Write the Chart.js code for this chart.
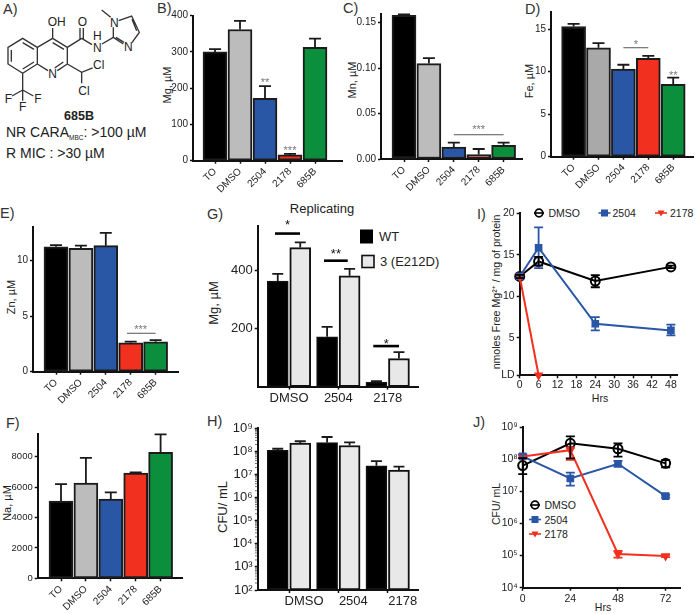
<!DOCTYPE html>
<html>
<head>
<meta charset="utf-8">
<script src="https://cdn.jsdelivr.net/npm/chart.js@4"></script>
<style>
  html, body { margin: 0; padding: 0; background: #fff; }
  #page { position: relative; width: 696px; height: 614px; overflow: hidden; }
  #page canvas { position: absolute; }
  #notes { position: absolute; left: 0; top: 0; font-family: "Liberation Sans", Arial, sans-serif; fill: #222; }
</style>
</head>
<body>
<div id="page">
<svg id="notes" width="696" height="614" viewBox="0 0 696 614"></svg>
</div>
<script>
const FONT = '"Liberation Sans", Arial, sans-serif';
const INK = '#1a1a1a';
const BLACK = '#000000', GREY = '#bcbcbc', DARKGREY = '#a9a9a9', BLUE = '#2a56a6', RED = '#f2301f', GREEN = '#0b8f3d', PALE = '#e8e8e8';

// data
const compounds = ['TO', 'DMSO', '2504', '2178', '685B'];
const groups = ['DMSO', '2504', '2178'];

const mgValues = [300, 362, 172, 16, 313];
const mgUpper = [308, 386, 206, 19, 337];
const mgTicks = [0, 100, 200, 300, 400];

const mnValues = [0.158, 0.105, 0.013, 0.005, 0.015];
const mnUpper = [0.159, 0.111, 0.018, 0.011, 0.018];
const mnTicks = [0, 0.05, 0.1, 0.15];

const feValues = [15.3, 12.8, 10.3, 11.55, 8.5];
const feUpper = [15.6, 13.35, 10.8, 11.85, 9.3];
const feTicks = [0, 5, 10, 15];

const znValues = [11.25, 11.1, 11.35, 2.6, 2.7];
const znUpper = [11.4, 11.35, 12.5, 2.7, 2.85];
const znTicks = [0, 5, 10];

const naValues = [5085, 6270, 5220, 6930, 8290];
const naUpper = [6200, 7930, 5660, 6970, 9470];
const naTicks = [0, 2000, 4000, 6000, 8000];

const repMgWT = [362, 171, 15];
const repMgWTUpper = [387, 205, 19];
const repMgMut = [477, 380, 96];
const repMgMutUpper = [495, 404, 118];
const repMgTicks = [200, 400];

const cfuWT = [1.12e8, 2.4e8, 2.4e7];
const cfuWTUpper = [1.3e8, 4.2e8, 3.8e7];
const cfuMut = [2.3e8, 1.8e8, 1.55e7];
const cfuMutUpper = [2.75e8, 2.45e8, 2.2e7];
const cfuTicks = [1e2, 1e3, 1e4, 1e5, 1e6, 1e7, 1e8, 1e9];

const freeHours = [0, 6, 24, 48];
const freeDmso = [12.4, 14.2, 11.85, 13.55];
const freeDmsoHigh = [12.6, 14.75, 12.55, 13.7];
const freeDmsoLow = [12.2, 13.7, 11.1, 13.4];
const free2504 = [12.4, 15.85, 6.7, 5.9];
const free2504High = [12.6, 18.3, 7.5, 6.6];
const free2504Low = [12.2, 13.4, 5.9, 5.3];
const free2178Hours = [0, 6];
const free2178 = [12.4, 0.5];
const freeTicks = [0.5, 5, 10, 15, 20];
const freeTickLabels = ['LD', '5', '10', '15', '20'];

const killHours = [0, 24, 48, 72];
const killDmso = [6.3e7, 3.1e8, 2.1e8, 7.4e7];
const killDmsoHigh = [1.07e8, 5.1e8, 3.1e8, 9.3e7];
const killDmsoLow = [3.4e7, 1.05e8, 1.2e8, 5.6e7];
const kill2504 = [1.22e8, 2.5e7, 7.2e7, 7.1e6];
const kill2504High = [1.4e8, 3.8e7, 8.8e7, 7.8e6];
const kill2504Low = [1.05e8, 1.5e7, 5.9e7, 6.4e6];
const kill2178 = [1.2e8, 1.9e8, 1.12e5, 9.7e4];
const kill2178High = [1.3e8, 2.3e8, 1.4e5, 1.05e5];
const kill2178Low = [1.1e8, 9.5e7, 8.6e4, 9e4];
const killTicks = [1e4, 1e5, 1e6, 1e7, 1e8, 1e9];

const SUPS = { 2: '²', 3: '³', 4: '⁴', 5: '⁵', 6: '⁶', 7: '⁷', 8: '⁸', 9: '⁹' };
const powerLabel = v => '10' + SUPS[Math.round(Math.log10(v))];

// upper / lower whiskers, taken from the dataset through the y scale
const whiskers = {
  id: 'whiskers',
  afterDatasetsDraw(chart) {
    const ctx = chart.ctx, y = chart.scales.y;
    chart.data.datasets.forEach((ds, d) => {
      if (!ds.upper) return;
      const cap = ds.cap || 6;
      chart.getDatasetMeta(d).data.forEach((el, i) => {
        const x = el.x, hi = y.getPixelForValue(ds.upper[i]);
        const lo = ds.lower ? y.getPixelForValue(ds.lower[i]) : el.y;
        ctx.save();
        ctx.strokeStyle = ds.whiskerColor || INK;
        ctx.lineWidth = 1.8;
        ctx.beginPath();
        ctx.moveTo(x, lo); ctx.lineTo(x, hi);
        ctx.moveTo(x - cap, hi); ctx.lineTo(x + cap, hi);
        if (ds.lower) { ctx.moveTo(x - cap, lo); ctx.lineTo(x + cap, lo); }
        ctx.stroke();
        ctx.restore();
      });
    });
  }
};

// significance bars and stars, in data units
const signif = {
  id: 'signif',
  afterDatasetsDraw(chart, args, opts) {
    const ctx = chart.ctx, sx = chart.scales.x, sy = chart.scales.y;
    (opts.marks || []).forEach(m => {
      ctx.save();
      if (m.from !== undefined) {
        ctx.strokeStyle = opts.lineColor || '#555';
        ctx.lineWidth = opts.lineWidth || 1;
        ctx.beginPath();
        ctx.moveTo(sx.getPixelForValue(m.from), sy.getPixelForValue(m.line));
        ctx.lineTo(sx.getPixelForValue(m.to), sy.getPixelForValue(m.line));
        ctx.stroke();
      }
      ctx.fillStyle = opts.textColor || '#777';
      ctx.font = (opts.size || 11) + 'px ' + FONT;
      ctx.textAlign = 'center';
      ctx.textBaseline = 'middle';
      ctx.fillText(m.text, sx.getPixelForValue(m.at), sy.getPixelForValue(m.star) + 2.5);
      ctx.restore();
    });
  }
};

// short minor ticks on a log axis, the library only does one tick length
const logMinor = {
  id: 'logMinor',
  afterDraw(chart, args, opts) {
    if (!opts.decades) return;
    const ctx = chart.ctx, y = chart.scales.y;
    ctx.save();
    ctx.strokeStyle = '#111';
    ctx.lineWidth = 0.8;
    ctx.beginPath();
    opts.decades.slice(0, -1).forEach(d => {
      for (let k = 2; k < 10; k++) {
        const py = y.getPixelForValue(d * k);
        ctx.moveTo(y.right - 1, py);
        ctx.lineTo(y.right - 2.5, py);
      }
    });
    ctx.stroke();
    ctx.restore();
  }
};

function addChart(area, config, tickSize) {
  const [l, t, r, b] = area;
  const left = Math.floor(l) - 45, top = Math.floor(t) - 9;
  const right = Math.ceil(r) + 3, bottom = Math.ceil(b) + 42;
  const canvas = document.createElement('canvas');
  canvas.width = right - left;
  canvas.height = bottom - top;
  canvas.style.left = left + 'px';
  canvas.style.top = top + 'px';
  canvas.style.width = canvas.width + 'px';
  canvas.style.height = canvas.height + 'px';
  document.getElementById('page').appendChild(canvas);

  const common = {
    offset: false,
    border: { display: true, color: '#111', width: 2 },
    grid: { display: true, offset: false, drawOnChartArea: false, drawTicks: true, tickLength: 3, tickWidth: 1.5, tickColor: '#111' }
  };
  const fix = s => { s.paddingLeft = s.paddingRight = s.paddingTop = s.paddingBottom = 0; };
  const sc = config.options.scales;
  sc.x = Object.assign({}, common, sc.x, { afterFit(s) { fix(s); s.height = bottom - b; } });
  sc.y = Object.assign({}, common, sc.y, { afterFit(s) { fix(s); s.width = l - left; } });
  sc.x.ticks = Object.assign({ color: '#222', font: { family: FONT, size: tickSize }, padding: 2, autoSkip: false }, sc.x.ticks);
  sc.y.ticks = Object.assign({ color: '#222', font: { family: FONT, size: tickSize }, padding: 2, autoSkip: false, includeBounds: false }, sc.y.ticks);

  config.options.responsive = false;
  config.options.animation = false;
  config.options.layout = { padding: { top: t - top, right: right - r, left: 0, bottom: 0 } };
  config.options.plugins = Object.assign({ legend: { display: false }, tooltip: { enabled: false } }, config.options.plugins);
  config.plugins = [whiskers, signif, logMinor];
  return new Chart(canvas.getContext('2d'), config);
}

const fixedTicks = list => s => { s.ticks = list.map(v => ({ value: v })); };

function barPanel(opt) {
  const [l, , r] = opt.area;
  const colors = [BLACK, opt.grey || GREY, BLUE, RED, GREEN];
  addChart(opt.area, {
    type: 'bar',
    data: {
      datasets: [{
        data: opt.values.map((v, i) => ({ x: i, y: v })),
        upper: opt.upper,
        cap: 6,
        grouped: false,
        barThickness: 24,
        backgroundColor: colors,
        borderColor: '#1c1c1c',
        borderWidth: 2,
        borderSkipped: false
      }]
    },
    options: {
      scales: {
        x: {
          type: 'linear',
          min: (l - opt.first) / opt.step,
          max: (r - opt.first) / opt.step,
          afterBuildTicks: fixedTicks(compounds.map((c, i) => i)),
          ticks: { minRotation: 45, maxRotation: 45, callback: v => compounds[v] }
        },
        y: {
          min: 0,
          max: opt.max,
          afterBuildTicks: fixedTicks(opt.ticks),
          ticks: { font: { family: FONT, size: opt.yTickSize || 10 }, callback: opt.format || (v => String(v)) }
        }
      },
      plugins: { signif: { marks: opt.marks || [] } }
    }
  }, 10);
}

barPanel({ area: [193, 15.7, 342, 160.7], first: 215, step: 25, max: 400, values: mgValues, upper: mgUpper, ticks: mgTicks,
  marks: [{ at: 2, star: 220, text: '**' }, { at: 3, star: 33, text: '***' }] });
barPanel({ area: [381, 13.6, 522, 159], first: 404, step: 24.9, max: 0.16, values: mnValues, upper: mnUpper, ticks: mnTicks,
  format: v => v.toFixed(2),
  marks: [{ from: 2, to: 4, line: 0.0267, at: 3, star: 0.035, text: '***' }] });
barPanel({ area: [551, 12, 693, 156.7], first: 573.6, step: 24.9, max: 17, values: feValues, upper: feUpper, ticks: feTicks, grey: DARKGREY,
  marks: [{ from: 2, to: 3, line: 12.8, at: 2.5, star: 13.4, text: '*' }, { at: 4, star: 9.8, text: '**' }] });
barPanel({ area: [33, 227.3, 178, 371.7], first: 56, step: 24.9, max: 13, values: znValues, upper: znUpper, ticks: znTicks,
  marks: [{ from: 2.85, to: 4, line: 3.46, at: 3.4, star: 4, text: '***' }] });
barPanel({ area: [37.7, 434, 182.7, 578.3], first: 61, step: 24.9, max: 9500, values: naValues, upper: naUpper, ticks: naTicks, yTickSize: 9.5 });

function pairPanel(opt) {
  const [l, , r] = opt.area;
  const first = 289, step = 49.35, shift = 0.228;
  addChart(opt.area, {
    type: 'bar',
    data: {
      datasets: [
        { data: opt.wt.map((v, i) => ({ x: i - shift, y: v })), upper: opt.wtUpper, cap: 5.5, grouped: false, barThickness: 21,
          backgroundColor: BLACK, borderColor: '#111', borderWidth: 1.5, borderSkipped: false },
        { data: opt.mut.map((v, i) => ({ x: i + shift, y: v })), upper: opt.mutUpper, cap: 5.5, grouped: false, barThickness: 21,
          backgroundColor: PALE, borderColor: '#111', borderWidth: 2, borderSkipped: false }
      ]
    },
    options: {
      scales: {
        x: {
          type: 'linear',
          min: (l - first) / step,
          max: (r - first) / step,
          afterBuildTicks: fixedTicks(groups.map((g, i) => i)),
          ticks: { minRotation: 0, maxRotation: 0, padding: 1, labelOffset: opt.labelShift, callback: v => groups[v] }
        },
        y: opt.y
      },
      plugins: {
        signif: { marks: opt.marks || [], lineColor: '#000', lineWidth: 2.6, textColor: '#111', size: 13 },
        logMinor: { decades: opt.decades }
      }
    }
  }, 13);
}

pairPanel({ area: [257.7, 225.7, 418, 386.6], labelShift: 0, wt: repMgWT, wtUpper: repMgWTUpper, mut: repMgMut, mutUpper: repMgMutUpper,
  y: { min: 0, max: 552, afterBuildTicks: fixedTicks(repMgTicks), ticks: { callback: v => String(v) } },
  marks: [
    { from: -0.284, to: 0.223, line: 525, at: -0.03, star: 562, text: '*' },
    { from: 0.709, to: 1.19, line: 432, at: 0.95, star: 462, text: '**' },
    { from: 1.708, to: 2.23, line: 139, at: 1.97, star: 154, text: '*' }
  ] });
pairPanel({ area: [257.7, 428.3, 418, 590], labelShift: 15, wt: cfuWT, wtUpper: cfuWTUpper, mut: cfuMut, mutUpper: cfuMutUpper, decades: cfuTicks,
  y: { type: 'logarithmic', min: 1e2, max: 1e9, afterBuildTicks: fixedTicks(cfuTicks), ticks: { callback: powerLabel } } });

function lineSet(xs, ys, color, point, high, low, extra) {
  return Object.assign({
    data: ys.map((v, i) => ({ x: xs[i], y: v })),
    upper: high,
    lower: low,
    cap: 4.5,
    whiskerColor: color,
    borderColor: color,
    borderWidth: 2,
    tension: 0,
    clip: false,
    pointStyle: point,
    pointRadius: 4.5,
    pointBorderColor: color,
    pointBorderWidth: 2,
    pointBackgroundColor: point === 'circle' ? 'rgba(255,255,255,0)' : color
  }, extra);
}

addChart([519.7, 213.3, 681, 375.3], {
  type: 'line',
  data: {
    datasets: [
      lineSet(free2178Hours, free2178, RED, 'triangle', null, null, { pointRotation: 180, pointRadius: 3.5 }),
      lineSet(freeHours, free2504, BLUE, 'rect', free2504High, free2504Low, { pointRadius: 4 }),
      lineSet(freeHours, freeDmso, BLACK, 'circle', freeDmsoHigh, freeDmsoLow)
    ]
  },
  options: {
    scales: {
      x: { type: 'linear', min: 0, max: 50.1, ticks: { stepSize: 6, includeBounds: false, minRotation: 0, maxRotation: 0, padding: 1 } },
      y: { min: 0.5, max: 20, afterBuildTicks: fixedTicks(freeTicks), ticks: { callback: v => freeTickLabels[freeTicks.indexOf(v)] } }
    }
  }
}, 10.5);

addChart([522.7, 427, 683.3, 587.7], {
  type: 'line',
  data: {
    datasets: [
      lineSet(killHours, kill2178, RED, 'triangle', kill2178High, kill2178Low, { pointRotation: 180, pointRadius: 3.5 }),
      lineSet(killHours, kill2504, BLUE, 'rect', kill2504High, kill2504Low, { pointRadius: 4 }),
      lineSet(killHours, killDmso, BLACK, 'circle', killDmsoHigh, killDmsoLow)
    ]
  },
  options: {
    scales: {
      x: { type: 'linear', min: 0, max: 79.5, ticks: { stepSize: 24, includeBounds: false, minRotation: 0, maxRotation: 0, padding: 2 } },
      y: { type: 'logarithmic', min: 1e4, max: 1e9, afterBuildTicks: fixedTicks(killTicks), ticks: { callback: powerLabel } }
    }
  }
}, 10.5);

// panel letters, axis titles, legends and the structure go in one svg on top
const notes = [];
const text = (x, y, s, size, extra) => notes.push(`<text x="${x}" y="${y}" font-size="${size}" ${extra || ''}>${s}</text>`);
const vtext = (x, y, s, size) => notes.push(`<text transform="translate(${x},${y}) rotate(-90)" font-size="${size}" text-anchor="middle">${s}</text>`);

[['A)', 3, 14], ['B)', 157, 13], ['C)', 343, 13], ['D)', 525, 14], ['E)', 0, 218], ['G)', 207, 219], ['I)', 477, 219],
 ['F)', 6, 428], ['H)', 207, 426], ['J)', 473, 427]].forEach(p => text(p[1], p[2], p[0], 14.5, 'fill="#333"'));

vtext(171, 85, 'Mg, µM', 11); vtext(356, 80, 'Mn, µM', 11); vtext(533, 81, 'Fe, µM', 11);
vtext(15, 297, 'Zn, µM', 11); vtext(11, 503, 'Na, µM', 11);
vtext(218, 303, 'Mg, µM', 13); vtext(227, 507, 'CFU/ mL', 13);
vtext(500, 292, 'nmoles Free Mg²⁺ / mg of protein', 10.6); vtext(500, 504, 'CFU/ mL', 10.5);
text(600, 402, 'Hrs', 10.5, 'text-anchor="middle"');
text(603, 611, 'Hrs', 10.5, 'text-anchor="middle"');
text(322, 213, 'Replicating', 13, 'text-anchor="middle"');

notes.push(`<rect x="360" y="229.5" width="13" height="14" fill="#000"/>`);
text(379, 241, 'WT', 13);
notes.push(`<rect x="362" y="255.5" width="12" height="12" fill="${PALE}" stroke="#111" stroke-width="1.6"/>`);
text(380, 266, '3 (E212D)', 13);

const keyCircle = (x, y) => `<path d="M${x - 5} ${y}h10" stroke="#000" stroke-width="1.6"/><circle cx="${x}" cy="${y}" r="3.8" fill="none" stroke="#000" stroke-width="1.8"/>`;
const keySquare = (x, y) => `<path d="M${x - 6} ${y}h12" stroke="${BLUE}" stroke-width="1.6"/><rect x="${x - 3.5}" y="${y - 3.5}" width="7" height="7" fill="${BLUE}"/>`;
const keyDown = (x, y) => `<path d="M${x - 6} ${y}h12" stroke="${RED}" stroke-width="1.6"/><path d="M${x - 3.5} ${y - 2.5}h7l-3.5 6z" fill="${RED}"/>`;
notes.push(keyCircle(539, 213), keySquare(604.5, 213), keyDown(661, 213));
text(548.5, 217, 'DMSO', 10.5); text(612.5, 217, '2504', 10.5); text(670, 217, '2178', 10.5);
notes.push(keyCircle(535, 505), keySquare(535, 519.5), keyDown(535, 534));
text(544.5, 509, 'DMSO', 10.5); text(544.5, 523.5, '2504', 10.5); text(544.5, 538, '2178', 10.5);

// structure of 685B, drawn at 3x and scaled down
const bonds = 'M68 115L112 142L112 192L68 220L24 192L24 142Z M34 150L34 185 M68 128L102 148 M68 207L102 186 ' +
  'M112 142L158 115L202 142L202 192L172 212 M144 212L112 192 M158 128L192 148 M190 186L164 204 ' +
  'M158 115L158 84 M202 142L245 115 M240 118L240 84 M250 118L250 84 M245 115L276 134 ' +
  'M306 132L340 112 M340 112L340 82 M356 62L395 48L418 97L396 128 M370 132L340 112 M396 58L410 92 M348 112L372 127 ' +
  'M305 30L332 52 M202 192L245 217L278 204 M245 217L245 250 M68 220L68 270 M68 270L36 288 M68 270L100 288 M68 270L68 302';
notes.push(`<g transform="scale(0.3333)" font-size="36" text-anchor="middle"><path d="${bonds}" fill="none" stroke="#333" stroke-width="4"/>` +
  [['OH', 170, 78], ['O', 247, 78], ['N', 343, 80], ['N', 385, 152], ['N', 292, 155], ['H', 292, 120], ['N', 158, 233], ['Cl', 296, 208], ['Cl', 252, 285],
   ['F', 25, 309], ['F', 114, 309], ['F', 68, 333]].map(a => `<text x="${a[1]}" y="${a[2]}">${a[0]}</text>`).join('') + '</g>');
text(79, 120, '685B', 12.5, 'font-weight="bold" text-anchor="middle"');
notes.push(`<text x="6" y="137" font-size="14">NR CARA<tspan font-size="6.5" dy="3">MBC</tspan><tspan dy="-3">: &gt;100 µM</tspan></text>`);
text(6, 158, 'R MIC : &gt;30 µM', 14);

document.getElementById('notes').innerHTML = notes.join('');
</script>
</body>
</html>
